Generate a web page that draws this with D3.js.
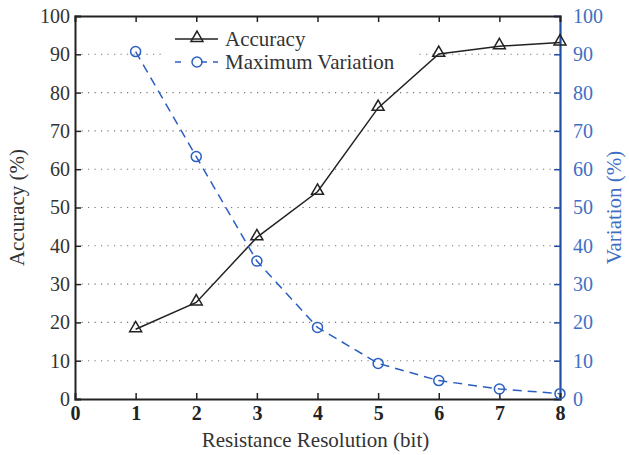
<!DOCTYPE html>
<html lang="en">
<head>
<meta charset="utf-8">
<title>Accuracy vs Resistance Resolution</title>
<script src="https://cdn.jsdelivr.net/npm/d3@7"></script>
<style>
body { margin: 0; background: #fff; }
</style>
</head>
<body>
<script>
// data
var bits = [1, 2, 3, 4, 5, 6, 7, 8];
var accuracy = [18.2, 25.2, 42.2, 54.1, 76.0, 90.1, 92.1, 93.1];
var variation = [90.7, 63.3, 36.0, 18.7, 9.3, 4.8, 2.6, 1.4];
var xTicks = [0, 1, 2, 3, 4, 5, 6, 7, 8];
var yTicks = [0, 10, 20, 30, 40, 50, 60, 70, 80, 90, 100];

var W = 629, H = 455;
var m = {top: 16, right: 69, bottom: 56, left: 75};
var blue = "#1f4ea3", lineBlue = "#2a5fc2", textBlue = "#3f6fc4";
var fs = "20px", fsLabel = "21px";

var svg = d3.select("body").append("svg").attr("width", W).attr("height", H);

var x = d3.scaleLinear().domain([0, 8]).range([m.left, W - m.right]);
var y = d3.scaleLinear().domain([0, 100]).range([H - m.bottom, m.top]);

// dotted grid
svg.append("g").selectAll("line").data(yTicks.slice(1, -1)).enter().append("line")
  .attr("x1", x(0)).attr("x2", x(8))
  .attr("y1", d => y(d)).attr("y2", d => y(d))
  .attr("stroke", "#777").attr("stroke-width", 1.1).attr("stroke-dasharray", "1.2,5.3");

// legend background (hides grid)
svg.append("rect").attr("x", 165).attr("y", 24).attr("width", 252).attr("height", 50).attr("fill", "#fff");

// left axis
var yl = d3.axisLeft(y).tickValues(yTicks).tickSize(-6).tickPadding(5);
var gl = svg.append("g").attr("transform", "translate(" + x(0) + ",0)").call(yl);
// right axis
var yr = d3.axisRight(y).tickValues(yTicks).tickSize(-6).tickPadding(13);
var gr = svg.append("g").attr("transform", "translate(" + x(8) + ",0)").call(yr);
// bottom axis
var xb = d3.axisBottom(x).tickValues(xTicks).tickSize(-6).tickPadding(7);
var gb = svg.append("g").attr("transform", "translate(0," + y(0) + ")").call(xb);
// top axis
var xt = d3.axisTop(x).tickValues(xTicks).tickSize(-6).tickFormat("");
var gt = svg.append("g").attr("transform", "translate(0," + y(100) + ")").call(xt);

[gl, gr, gb, gt].forEach(g => g.attr("font-family", null).attr("font-size", null));

[gl, gb, gt].forEach(function(g) {
  g.select(".domain").attr("stroke", "#222").attr("stroke-width", 2);
  g.selectAll(".tick line").attr("stroke", "#222").attr("stroke-width", 1.5);
  g.selectAll(".tick text").attr("fill", "#333");
});
gb.selectAll(".tick text").style("font-weight", "bold").attr("fill", "#222");
gr.select(".domain").attr("stroke", blue).attr("stroke-width", 2.2);
gr.selectAll(".tick line").attr("stroke", blue).attr("stroke-width", 1.5);
gr.selectAll(".tick text").attr("fill", textBlue);
gl.selectAll(".tick line").filter(d => d == 0 || d == 100).remove();
gr.selectAll(".tick line").filter(d => d == 0 || d == 100).remove();
gb.selectAll(".tick line").filter(d => d == 0 || d == 8).remove();
gt.selectAll(".tick line").filter(d => d == 0 || d == 8).remove();

// accuracy line
var lineA = d3.line().x((d, i) => x(bits[i])).y(d => y(d));
svg.append("path").datum(accuracy).attr("d", lineA)
  .attr("fill", "none").attr("stroke", "#222").attr("stroke-width", 1.5);
var tri = d3.symbol().type(d3.symbolTriangle).size(62);
svg.append("g").selectAll("path").data(accuracy).enter().append("path")
  .attr("d", tri).attr("transform", (d, i) => "translate(" + x(bits[i]) + "," + (y(d) - 1) + ")")
  .attr("fill", "none").attr("stroke", "#222").attr("stroke-width", 1.5);

// variation line
svg.append("path").datum(variation).attr("d", lineA)
  .attr("fill", "none").attr("stroke", lineBlue).attr("stroke-width", 1.5).attr("stroke-dasharray", "9,6");
svg.append("g").selectAll("circle").data(variation).enter().append("circle")
  .attr("cx", (d, i) => x(bits[i])).attr("cy", d => y(d)).attr("r", 5)
  .attr("fill", "none").attr("stroke", lineBlue).attr("stroke-width", 1.5);

// legend
var lg = svg.append("g");
lg.append("line").attr("x1", 175).attr("x2", 218).attr("y1", 39).attr("y2", 39).attr("stroke", "#222").attr("stroke-width", 1.5);
lg.append("path").attr("d", tri).attr("transform", "translate(197,38)").attr("fill", "none").attr("stroke", "#222").attr("stroke-width", 1.5);
lg.append("line").attr("x1", 175).attr("x2", 218).attr("y1", 62).attr("y2", 62).attr("stroke", lineBlue).attr("stroke-width", 1.5).attr("stroke-dasharray", "6,11,0,9,6");
lg.append("circle").attr("cx", 197).attr("cy", 62).attr("r", 5).attr("fill", "none").attr("stroke", lineBlue).attr("stroke-width", 1.5);
lg.append("text").attr("class", "lbl").attr("x", 225).attr("y", 46).text("Accuracy").attr("fill", "#333");
lg.append("text").attr("class", "lbl").attr("x", 225).attr("y", 69).text("Maximum Variation").attr("fill", "#333");

// axis titles
svg.append("text").attr("class", "lbl").attr("x", x(4) - 2).attr("y", 447).attr("text-anchor", "middle")
  .text("Resistance Resolution (bit)").attr("fill", "#333");
svg.append("text").attr("class", "lbl").attr("transform", "translate(24," + y(50) + ") rotate(-90)").attr("text-anchor", "middle")
  .text("Accuracy (%)").attr("fill", "#333");
svg.append("text").attr("class", "lbl").attr("transform", "translate(621," + y(50) + ") rotate(-90)").attr("text-anchor", "middle")
  .text("Variation (%)").attr("fill", textBlue);

svg.selectAll("text").style("font-family", "'Liberation Serif'").style("font-size", fs);
svg.selectAll("text.lbl").style("font-size", fsLabel);
</script>
</body>
</html>
